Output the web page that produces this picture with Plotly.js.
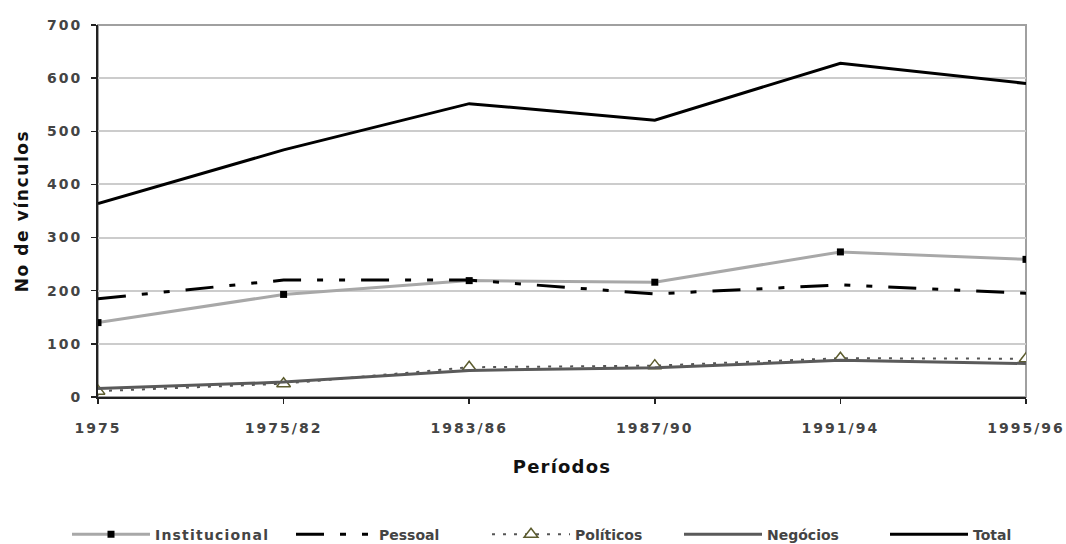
<!DOCTYPE html>
<html>
<head>
<meta charset="utf-8">
<script src="https://cdn.plot.ly/plotly-3.0.1.min.js"></script>
<style>
html,body{margin:0;padding:0;background:#fff;}
#chart{width:1066px;height:544px;}
g.xtick text, g.ytick text{letter-spacing:2px;}
text.legendtext{letter-spacing:1.2px;}
.g-xtitle text{letter-spacing:1.2px;}
.g-ytitle text{letter-spacing:1.6px;}
</style>
</head>
<body>
<div id="chart"></div>
<script>
const periods = ["1975", "1975/82", "1983/86", "1987/90", "1991/94", "1995/96"];
const institucional = [140, 193, 219, 216, 273, 259];
const pessoal = [185, 220, 220, 194, 211, 195];
const politicos = [11, 25, 56, 59, 73, 72];
const negocios = [16, 28, 50, 55, 69, 63];
const total = [364, 465, 552, 521, 628, 590];
const yTicks = [0, 100, 200, 300, 400, 500, 600, 700];

const font = "DejaVu Sans, Verdana, sans-serif";

const traces = [
  {x: periods, y: institucional, name: "Institucional", type: "scatter", mode: "lines+markers", legend: "legend",
   line: {color: "#a8a8a8", width: 3}, marker: {symbol: "square", size: 7, color: "#000"}},
  {x: periods, y: pessoal, name: "Pessoal", type: "scatter", mode: "lines", legend: "legend2",
   line: {color: "#000", width: 3, dash: "28px,16px,6px,16px,6px,16px"}},
  {x: periods, y: politicos, name: "Políticos", type: "scatter", mode: "lines+markers", legend: "legend3",
   line: {color: "#555", width: 2, dash: "3px,8px"},
   marker: {symbol: "triangle-up", size: 12, color: "#fff", line: {color: "#5c5c2e", width: 1.5}}},
  {x: periods, y: negocios, name: "Negócios", type: "scatter", mode: "lines", legend: "legend4",
   line: {color: "#5a5a5a", width: 3}},
  {x: periods, y: total, name: "Total", type: "scatter", mode: "lines", legend: "legend5",
   line: {color: "#000", width: 3}}
];

function leg(xpx) {
  return {orientation: "h", xref: "container", yref: "container",
          x: xpx / 1066, xanchor: "left", y: 0.017, yanchor: "middle",
          font: {family: font, size: 14, color: "#444", weight: "bold"},
          itemwidth: 78, bgcolor: "rgba(0,0,0,0)"};
}

const layout = {
  width: 1066, height: 544,
  margin: {l: 98, r: 40, t: 25, b: 147},
  paper_bgcolor: "#fff", plot_bgcolor: "#fff",
  font: {family: font, color: "#444", size: 14},
  showlegend: true,
  legend: leg(67), legend2: leg(291), legend3: leg(487), legend4: leg(679), legend5: leg(885),
  xaxis: {type: "category", range: [0, 5], showgrid: false, zeroline: false, automargin: false,
          showline: true, linecolor: "#222", linewidth: 2,
          ticks: "outside", ticklen: 5, tickcolor: "#222", tickwidth: 1.5,
          ticklabelstandoff: 12,
          tickfont: {family: font, size: 14, color: "#444", weight: "bold"},
          title: {text: "Períodos", font: {family: font, size: 18, color: "#111", weight: "bold"}, standoff: 26}},
  yaxis: {range: [0, 700], tickvals: yTicks, ticktext: yTicks.map(String), automargin: false,
          showgrid: true, gridcolor: "#cccccc", gridwidth: 2, zeroline: false,
          showline: true, linecolor: "#222", linewidth: 2,
          ticks: "outside", ticklen: 5, tickcolor: "#222", tickwidth: 1.5,
          ticklabelstandoff: 6,
          tickfont: {family: font, size: 14, color: "#444", weight: "bold"},
          title: {text: "No de vínculos", font: {family: font, size: 17, color: "#111", weight: "bold"}, standoff: 14}},
  shapes: [{type: "rect", xref: "paper", yref: "paper", x0: 0, x1: 1, y0: 0, y1: 1,
            line: {color: "#a0a0a0", width: 2}, layer: "below"}]
};

Plotly.newPlot("chart", traces, layout, {displayModeBar: false, staticPlot: true});
</script>
</body>
</html>
